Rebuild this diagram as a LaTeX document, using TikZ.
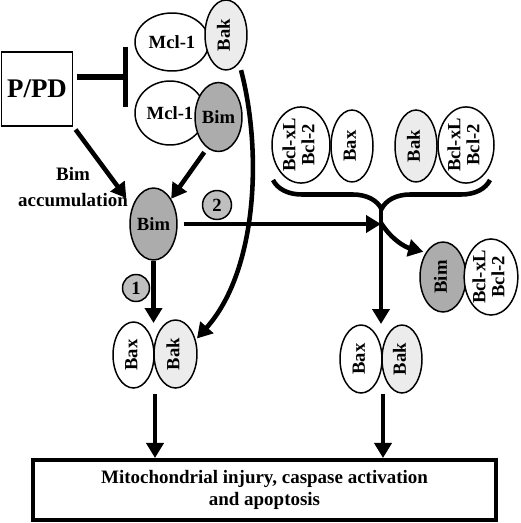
\documentclass[tikz,border=0pt]{standalone}
\usepackage{fontspec}
\setmainfont{Liberation Serif}
\usetikzlibrary{shapes.geometric, arrows.meta, decorations.pathreplacing}

\newcommand{\vlab}[1]{\rotatebox{90}{\renewcommand{\arraystretch}{0.9}\begin{tabular}{@{}c@{}}#1\end{tabular}}}

\tikzset{
    prot/.style = {ellipse, draw, line width = 0.85pt, inner sep = 0pt, fill = white},
    bakprot/.style = {prot, fill = gray!15},
    bimprot/.style = {prot, fill = gray!65},
    numcirc/.style = {circle, draw, line width = 0.85pt, fill = gray!50, inner sep = 0pt, minimum size = 0.58cm},
    arr/.style = {line width = 2.6pt, -{Triangle[length = 0.3cm, width = 0.34cm]}},
}

\begin{document}
\begin{tikzpicture}[x = 0.02cm, y = -0.02cm, font = \fontsize{10.6}{12}\selectfont\bfseries]
        \useasboundingbox (0, 0) rectangle (520, 523);

        % drug box and the two Mcl-1 complexes
        \node [draw, line width = 0.85pt, minimum width = 1.4cm, minimum height = 1.48cm,
               font = \fontsize{15.3}{18}\selectfont\bfseries] (ppd) at (37, 89) {P/PD};

        \node [prot, minimum width = 1.48cm, minimum height = 1.16cm] (mclA) at (172, 42) {Mcl-1};
        \node [bakprot, minimum width = 0.84cm, minimum height = 1.4cm] (bakA) at (226, 35) {\vlab{Bak}};
        \node [prot, minimum width = 1.4cm, minimum height = 1.28cm] (mclB) at (170, 113) {Mcl-1};
        \node [bimprot, minimum width = 0.94cm, minimum height = 1.38cm] (bimB) at (218.5, 117) {Bim};

        \node [align = center, font = \fontsize{10.8}{15.3}\selectfont\bfseries] (acclab) at (73, 187) {Bim\\accumulation};
        \node [bimprot, minimum width = 0.94cm, minimum height = 1.44cm] (bimacc) at (153.5, 224) {Bim};

        \node [numcirc] (two) at (217, 205) {2};
        \node [numcirc, minimum size = 0.54cm] (one) at (136, 288) {1};

        % left pair
        \node [prot, minimum width = 0.82cm, minimum height = 1.32cm] (baxL) at (133.5, 355) {\vlab{Bax}};
        \node [bakprot, minimum width = 0.86cm, minimum height = 1.36cm] (bakL) at (175.5, 354) {\vlab{Bak}};

        % right side
        \node [prot, minimum width = 1.16cm, minimum height = 1.48cm] (bclA) at (301, 145) {\vlab{Bcl-xL\\Bcl-2}};
        \node [prot, minimum width = 0.84cm, minimum height = 1.44cm] (baxA) at (352, 146) {\vlab{Bax}};
        \node [bakprot, minimum width = 0.84cm, minimum height = 1.44cm] (bakB) at (416, 146) {\vlab{Bak}};
        \node [prot, minimum width = 1.12cm, minimum height = 1.48cm] (bclB) at (466, 145) {\vlab{Bcl-xL\\Bcl-2}};

        \node [bimprot, minimum width = 0.92cm, minimum height = 1.4cm] (bimR) at (443, 277) {\vlab{Bim}};
        \node [prot, minimum width = 1.0cm, minimum height = 1.4cm] (bclC) at (491, 277) {\vlab{Bcl-xL\\Bcl-2}};

        \node [prot, minimum width = 0.84cm, minimum height = 1.36cm] (baxR) at (361, 359) {\vlab{Bax}};
        \node [bakprot, minimum width = 0.8cm, minimum height = 1.36cm] (bakR) at (402, 359) {\vlab{Bak}};

        \node [draw, line width = 2.3pt, minimum width = 9.26cm, minimum height = 1.2cm, align = center,
               font = \fontsize{10.8}{13}\selectfont\bfseries] (outcome) at (264.5, 490)
            {Mitochondrial injury, caspase activation\\and apoptosis};

        \coordinate (tbar) at (128, 77);
        \coordinate (pairL) at (154, 323);
        \coordinate (pairLb) at (155, 394);
        \coordinate (braceL) at (273, 180);
        \coordinate (braceR) at (490, 180);
        \coordinate (braceTip) at (381, 209);
        \coordinate (junc) at (381, 223);
        \coordinate (pairR) at (381, 324);
        \coordinate (pairRb) at (383, 394);

        % connectors
        \draw [line width = 3pt, shorten < = 2pt, -{Bar[width = 1.22cm]}]
            (ppd.east |- tbar) -- (tbar)
        ;

        \draw [arr, shorten < = 2pt, shorten > = 0.2cm] (ppd.south east) -- (bimacc.140);
        \draw [arr, shorten < = 0.1cm] (bimB.250) -- (bimacc.55);
        \draw [arr] (bimacc.south) -- (bimacc.south |- pairL);
        \draw [arr, shorten < = 0.12cm] (bimacc.east) -- (bimacc.east -| junc);
        \draw [arr, shorten < = 4pt, shorten > = 1pt]
            (bakA.-65) .. controls (262, 150) and (258, 270) .. (bakL.35)
        ;

        \draw [line width = 2.6pt, decorate, decoration = {brace, mirror, amplitude = 0.58cm}]
            (braceL) -- (braceR)
        ;
        \draw [arr] (braceTip) -- (pairR);
        \draw [arr, shorten > = 1.5pt] (junc) .. controls (392, 240) and (405, 247) .. (bimR.125);

        \draw [arr] (pairLb) -- (pairLb |- outcome.north);
        \draw [arr] (pairRb) -- (pairRb |- outcome.north);
    \end{tikzpicture}
\end{document}
